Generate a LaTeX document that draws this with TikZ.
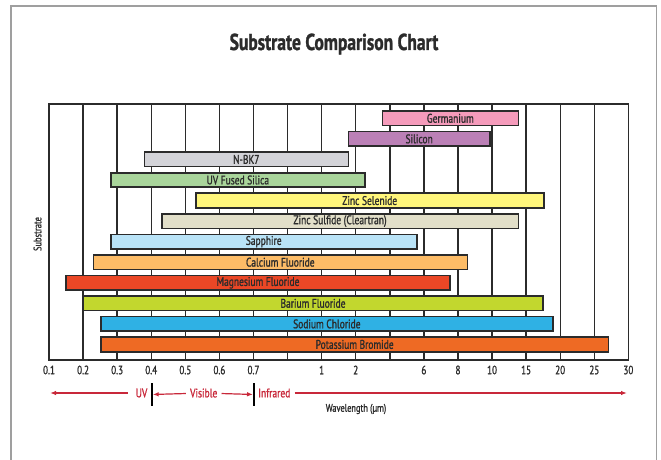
\documentclass[tikz,border=0pt]{standalone}
\usepackage{fontspec}
\setmainfont{PT Sans}[FakeStretch=0.76, FakeBold=1.2]
\usetikzlibrary{arrows.meta}
\definecolor{gridc}{HTML}{2B2B2B}
\definecolor{legred}{HTML}{C8283A}
\definecolor{cge}{HTML}{F59BBB}
\definecolor{csi}{HTML}{BB80B6}
\definecolor{cbk}{HTML}{D3D3D8}
\definecolor{cuv}{HTML}{A9D59B}
\definecolor{czse}{HTML}{FFF67B}
\definecolor{czs}{HTML}{E2DFC9}
\definecolor{csa}{HTML}{B9E3F7}
\definecolor{ccaf}{HTML}{FDBC67}
\definecolor{cmgf}{HTML}{EA4726}
\definecolor{cbaf}{HTML}{C2D72E}
\definecolor{cnacl}{HTML}{2FB1E4}
\definecolor{ckbr}{HTML}{EE6A24}
\begin{document}
\begin{tikzpicture}[x=1pt, y=-1pt,
    bar/.style={draw=gridc, line width=1.6pt, inner sep=0pt, minimum height=14.5pt,
      text=gridc, font=\fontsize{12.5}{13}\selectfont},
    tick/.style={text=gridc, font=\fontsize{12}{12}\selectfont},
    leg/.style={text=legred, font=\fontsize{12.5}{12}\selectfont, inner xsep=4pt},
    legarrow/.style={draw=legred, line width=1.2pt, -{Latex[length=6pt,width=4.5pt]}},
    sepbar/.style={fill=black, minimum width=1.6pt, minimum height=23pt, inner sep=0pt}]
    \useasboundingbox (0,0) rectangle (661,460);
    \draw[gray!75, line width=1.5pt] (11,460) -- (11,6) -- (656.5,6) -- (656.5,460);
    \node[font=\bfseries\fontsize{23}{23}\selectfont, text=gridc, anchor=base] (title)
      at (334,50) {Substrate Comparison Chart};

    % grid
    \foreach \i in {0,...,17}
      \draw[gridc, line width=1.4pt] ({49+34.08*\i},104) -- ({49+34.08*\i},360);
    \draw[gridc, line width=1.6pt] (49,104) rectangle (628.4,360);
    \foreach \i/\t in {0/0.1,1/0.2,2/0.3,3/0.4,4/0.5,5/0.6,6/0.7,8/1,9/2,
        11/6,12/8,13/10,14/15,15/20,16/25,17/30}
      \node[tick] (tick\i) at ({49+34.08*\i},370) {\t};

    % bars
    \foreach \n/\s/\e/\c [count=\j from 0] in {
        Germanium/382.3/518.3/cge,
        Silicon/348.3/490/csi,
        N-BK7/144.3/348.3/cbk,
        UV Fused Silica/110.7/365/cuv,
        Zinc Selenide/195.7/543.7/czse,
        Zinc Sulfide (Cleartran)/161.7/518.3/czs,
        Sapphire/110.7/416.7/csa,
        Calcium Fluoride/93.3/467.3/ccaf,
        Magnesium Fluoride/66/450/cmgf,
        Barium Fluoride/83.3/542.7/cbaf,
        Sodium Chloride/101/552.7/cnacl,
        Potassium Bromide/101/608.3/ckbr}
      \node[bar, fill=\c, minimum width={(\e-\s)*1pt}] (bar\j)
        at ({(\s+\e)/2},{118.3+20.56*\j}) {\n};

    \node[rotate=90, text=gridc, font=\fontsize{11}{11}\selectfont] (ylab)
      at (37.5,234) {Substrate};
    \node[text=gridc, font=\fontsize{11}{11}\selectfont] (xlab)
      at (356,409) {Wavelength (µm)};

    % legend
    \coordinate (uvtip) at (50,393);
    \coordinate (irtip) at (627,393);
    \node[leg, inner xsep=8pt] (uv) at (141.5,393) {UV};
    \node[sepbar] (sepa) at (151.7,394.5) {};
    \node[leg] (vis) at (203.7,393) {Visible};
    \node[sepbar] (sepb) at (254,394.5) {};
    \node[leg] (ir) at (274.3,393) {Infrared};
    \draw[legarrow] (uv) -- (uvtip);
    \draw[legarrow] (vis) -- (sepa);
    \draw[legarrow] (vis) -- (sepb);
    \draw[legarrow] (ir) -- (irtip);
\end{tikzpicture}
\end{document}
